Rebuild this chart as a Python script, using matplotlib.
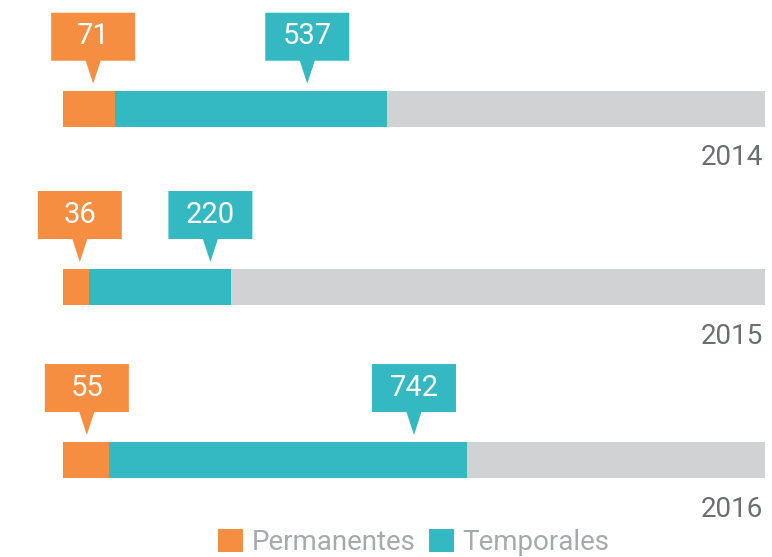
import matplotlib
matplotlib.use('Agg')
import matplotlib.pyplot as plt
from matplotlib.patches import Polygon
import matplotlib.transforms as mtransforms

plt.rcParams['font.family'] = ['Roboto', 'DejaVu Sans']

years = ['2014', '2015', '2016']
permanentes = [71, 36, 55]
temporales = [537, 220, 742]
# segment lengths as share (%) of the full grey track
perm_share = [7.4, 3.7, 6.5]
temp_share = [38.7, 20.2, 51.1]
# where each callout points along the track (%)
perm_anchor = [4.3, 2.4, 3.4]
temp_anchor = [34.8, 21.0, 50.0]

ORANGE = '#F68E41'
TEAL = '#34B8C2'
GREY = '#D1D2D4'
YEAR_C = '#6D6E71'
LEG_C = '#A7A9AC'

fig = plt.figure(figsize=(7.72, 5.57), dpi=100)
ax = fig.add_axes([0, 0, 1, 1])
ax.set_xlim(-8.97, 101.0)
ax.set_ylim(2.552, -0.619)
ax.axis('off')

# row positions (layout)
ypos = [0, 1.015, 2]
h = 0.205
ax.barh(ypos, [100] * len(years), height=h, color=GREY)
ax.barh(ypos, perm_share, height=h, color=ORANGE, label='Permanentes')
ax.barh(ypos, temp_share, left=perm_share, height=h, color=TEAL, label='Temporales')


def callout(x, yi, text, color):
    px, py = ax.transData.transform((x, yi - h / 2))
    trans = fig.dpi_scale_trans + mtransforms.Affine2D().translate(px, py)
    verts = [(0, 0.07), (0.075, 0.30), (0.42, 0.30), (0.42, 0.78),
             (-0.42, 0.78), (-0.42, 0.30), (-0.075, 0.30)]
    ax.add_patch(Polygon(verts, closed=True, facecolor=color, edgecolor='none',
                         transform=trans, clip_on=False))
    ax.text(0, 0.545, text, transform=trans, ha='center', va='center',
            color='white', fontsize=21)


for i, yi in enumerate(ypos):
    callout(perm_anchor[i], yi, str(permanentes[i]), ORANGE)
    callout(temp_anchor[i], yi, str(temporales[i]), TEAL)
    ax.annotate(years[i], (100, yi + h / 2), xytext=(-1.0, -22.5),
                textcoords='offset points', ha='right', va='center',
                color=YEAR_C, fontsize=20)

ax.legend(loc='center', bbox_to_anchor=(50, 2.47), bbox_transform=ax.transData,
          ncol=2, frameon=False, fontsize=20, labelcolor=LEG_C,
          handlelength=0.9, handleheight=0.9, handletextpad=0.3,
          columnspacing=0.5, borderpad=0, borderaxespad=0)

fig.savefig('out.png', dpi=100)
